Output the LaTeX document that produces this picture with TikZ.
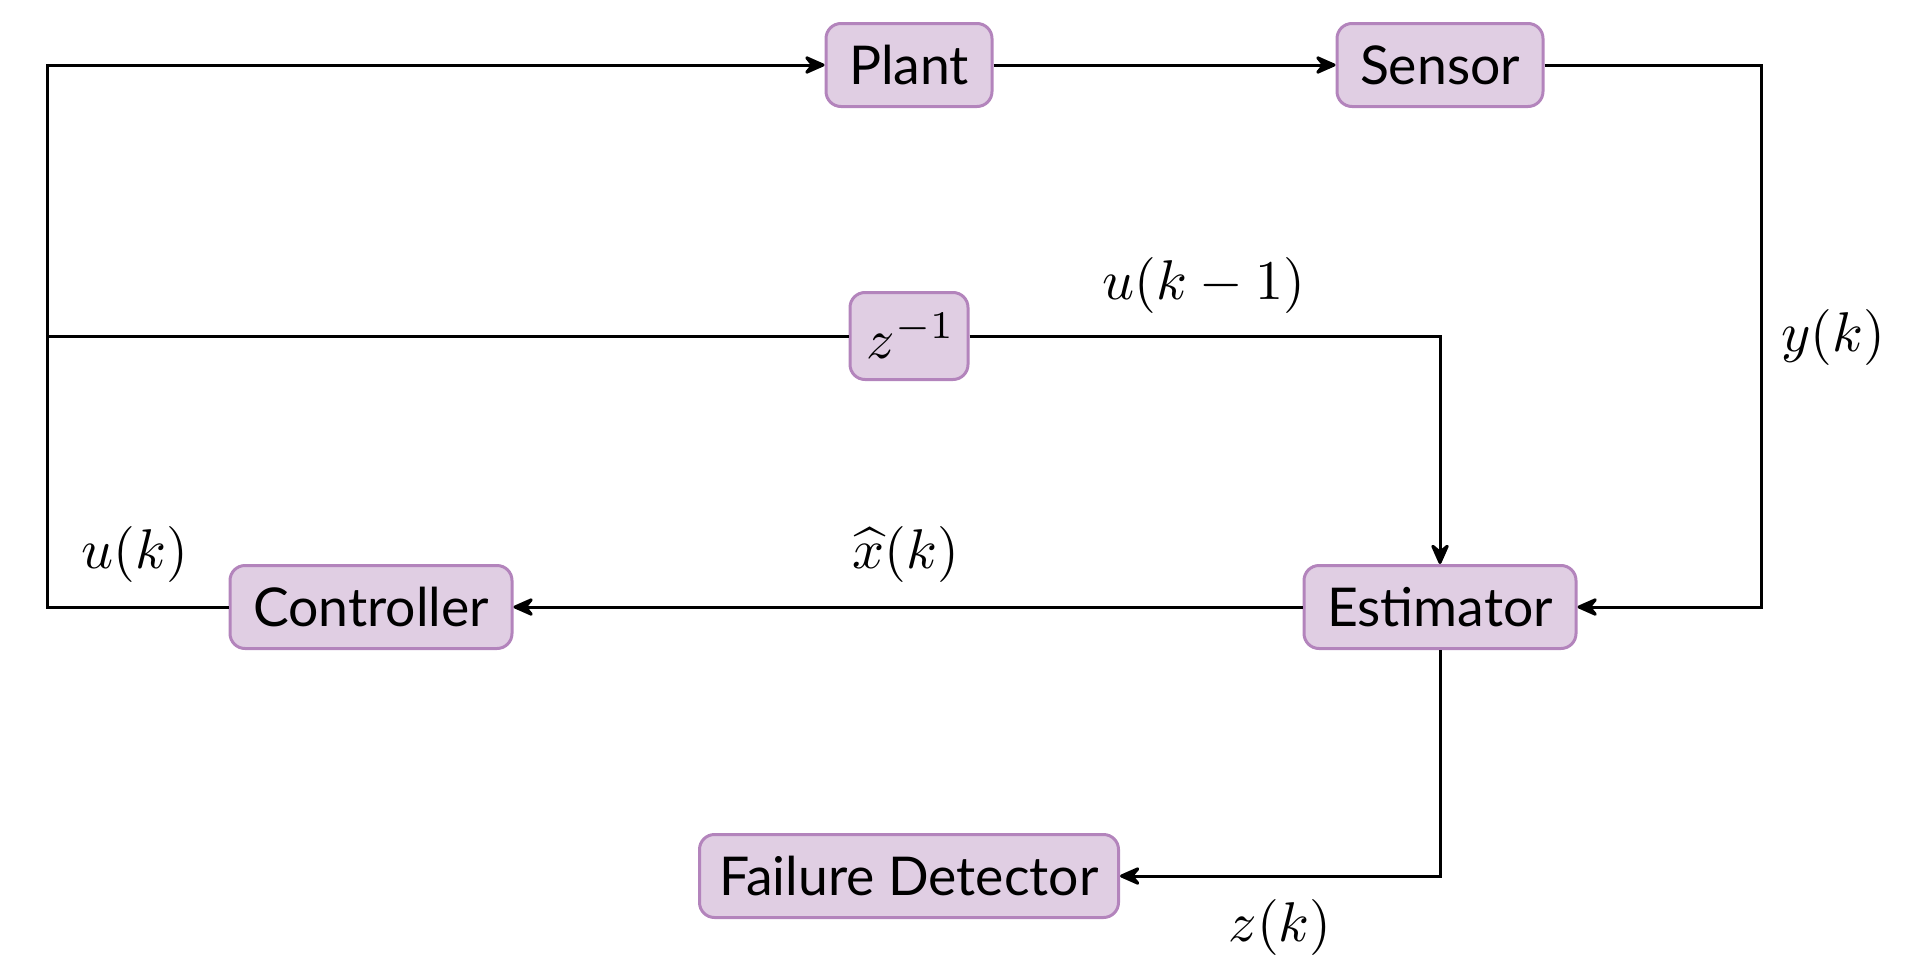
\RequirePackage{fix-cm}
\documentclass[tikz,border=0pt]{standalone}
\usepackage{fontspec}
\setmainfont{Lato}
\usetikzlibrary{arrows.meta}
\definecolor{boxfill}{HTML}{E0CEE3}
\definecolor{boxline}{HTML}{B384BC}
\begin{document}
\begin{tikzpicture}[x=1pt,y=-1pt,
  blk/.style={draw=boxline,fill=boxfill,line width=3pt,rounded corners=15pt,
    inner xsep=0pt,inner ysep=0pt,minimum height=83pt,
    font=\fontsize{53.5}{60}\selectfont},
  lab/.style={font=\fontsize{10}{12}\selectfont,inner sep=0pt,scale=5.6,transform shape},
  arr/.style={line width=3pt,-{Stealth[length=25pt,width=22pt,inset=9pt,round]}},
  ln/.style={line width=3pt}]
\useasboundingbox (0,0) rectangle (1920,977);
\node[blk,minimum width=166pt] (plant) at (909,65) {Plant};
\node[blk,minimum width=206pt] (sensor) at (1440,65) {Sensor};
\node[blk,minimum width=118pt,minimum height=87pt] (zinv) at (909,336) {};
\node[blk,minimum width=272pt] (est) at (1440,607) {Estimator};
\node[blk,minimum width=282pt] (ctrl) at (371,607) {Controller};
\node[blk,minimum width=419pt] (fd) at (909,876) {Failure Detector};
\coordinate (lb) at (47,607);
\coordinate (lm) at (47,336);
\coordinate (rt) at (1761,65);
\coordinate (p1) at (1204,285);
\coordinate (p2) at (1833,337);
\coordinate (p3) at (906,554);
\coordinate (p4) at (135,554);
\coordinate (p5) at (1280,927);
\coordinate (p6) at (911,336);
\draw[arr] (ctrl.west) -- (lb) |- (plant.west);
\draw[ln] (lm) -- (zinv.west);
\draw[arr] (zinv.east) -| (est.north);
\draw[arr] (plant.east) -- (sensor.west);
\draw[arr] (sensor.east) -- (rt) |- (est.east);
\draw[arr] (est.west) -- (ctrl.east);
\draw[arr] (est.south) |- (fd.east);
\node[lab] (zt) at (p6) {$z^{-1}$};
\node[lab] (l1) at (p1) {$u(k-1)$};
\node[lab] (l2) at (p2) {$y(k)$};
\node[lab] (l3) at (p3) {$\widehat{x}(k)$};
\node[lab] (l4) at (p4) {$u(k)$};
\node[lab] (l5) at (p5) {$z(k)$};
\end{tikzpicture}
\end{document}
